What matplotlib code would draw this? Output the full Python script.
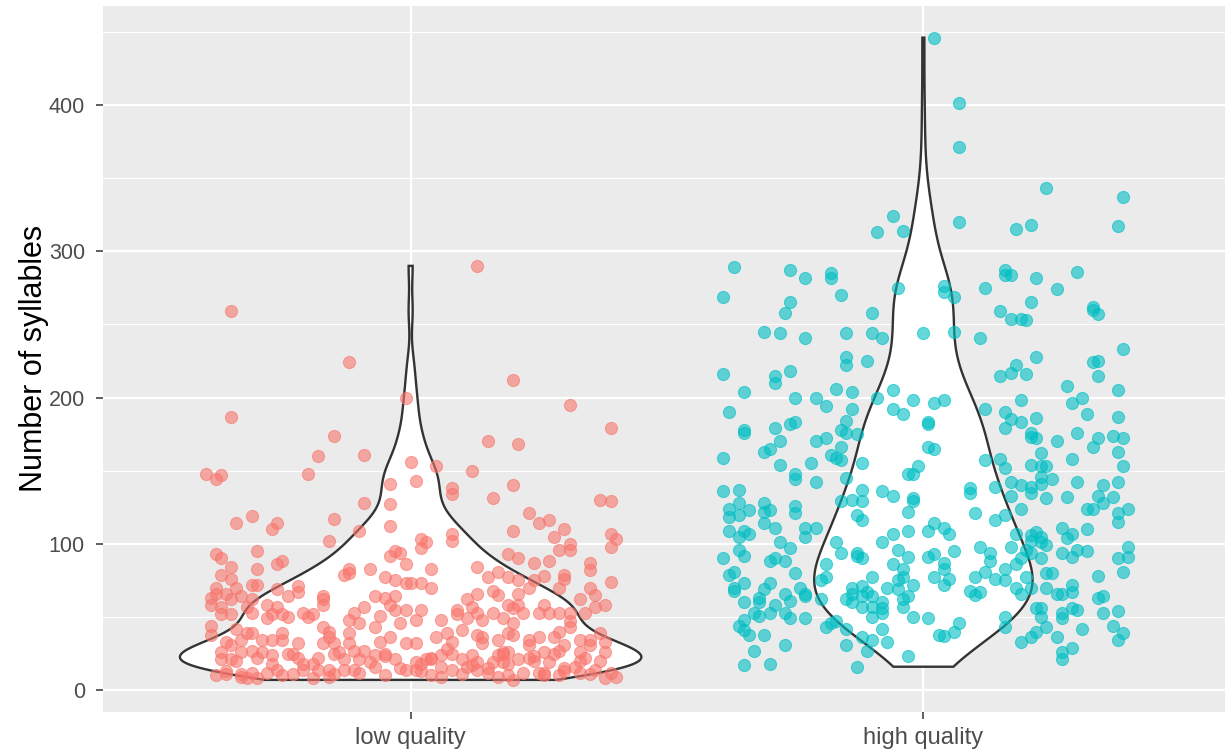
import numpy as np
import matplotlib
matplotlib.use("Agg")
import matplotlib.pyplot as plt
from matplotlib.ticker import MultipleLocator

plt.rcParams['font.family'] = ['Liberation Sans', 'DejaVu Sans']

categories = ["low quality", "high quality"]
group_colors = ["#F8766D", "#00BFC4"]
y_label = "Number of syllables"
y_ticks = [0, 100, 200, 300, 400]

# jittered points, low quality: horizontal jitter (category units) and syllables
low_jitter = [
    -0.35, 0.13, -0.12, -0.35, 0.20, -0.01, 0.31, -0.15, 0.39, 0.21, -0.18, 0.15, 0.00, -0.09,
    -0.40, -0.37, -0.38, 0.05, 0.12, -0.20, 0.08, 0.08, 0.20, 0.37, 0.01, -0.04, 0.16, 0.39,
    -0.09, -0.04, -0.34, -0.31, -0.26, -0.27, -0.15, -0.10, -0.04, -0.16, 0.23, 0.25, 0.27, 0.30,
    0.20, 0.28, 0.31, 0.31, 0.39, 0.40, 0.39, 0.08, 0.08, 0.02, 0.03, 0.02, 0.19, 0.21,
    0.24, 0.27, 0.29, 0.35, 0.35, 0.30, 0.30, 0.26, 0.24, 0.29, 0.39, 0.35, 0.36, 0.33,
    0.36, 0.38, 0.04, 0.13, 0.15, 0.17, 0.19, 0.21, 0.23, 0.02, 0.04, 0.00, 0.13, 0.16,
    0.17, 0.21, 0.11, 0.02, 0.01, 0.06, 0.09, 0.09, 0.12, 0.13, 0.11, 0.14, 0.16, 0.19,
    0.20, 0.21, 0.22, 0.18, 0.20, 0.25, 0.26, 0.27, 0.29, 0.31, 0.34, 0.31, 0.31, 0.29,
    0.28, 0.30, 0.33, 0.35, 0.37, 0.38, 0.35, 0.33, 0.34, 0.38, 0.37, 0.36, 0.38, 0.40,
    0.32, 0.33, 0.29, 0.30, 0.26, 0.25, 0.27, 0.24, 0.23, 0.23, 0.25, 0.26, 0.28, 0.19,
    0.20, 0.17, 0.18, 0.19, 0.17, 0.18, 0.16, 0.19, 0.21, 0.23, 0.15, 0.17, 0.19, 0.20,
    0.15, 0.13, 0.12, 0.14, 0.13, 0.14, 0.08, 0.07, 0.05, 0.10, 0.10, 0.08, 0.06, 0.06,
    0.04, 0.04, 0.02, 0.01, 0.08, 0.11, 0.13, 0.04, 0.01, 0.01,
    -0.38, -0.37, -0.30, -0.25, -0.26, -0.35, -0.30, -0.37, -0.35, -0.34, -0.31, -0.30, -0.38, -0.38,
    -0.39, -0.36, -0.35, -0.39, -0.37, -0.37, -0.35, -0.33, -0.31, -0.32, -0.31, -0.26, -0.22, -0.22,
    -0.24, -0.28, -0.26, -0.27, -0.28, -0.25, -0.24, -0.21, -0.19, -0.20, -0.39, -0.34, -0.32, -0.31,
    -0.39, -0.36, -0.35, -0.33, -0.29, -0.27, -0.25, -0.25, -0.22, -0.37, -0.37, -0.35, -0.33, -0.30,
    -0.29, -0.27, -0.24, -0.23, -0.22, -0.21, -0.19, -0.36, -0.33, -0.32, -0.31, -0.30, -0.26, -0.25,
    -0.19, -0.18, -0.16, -0.15, -0.13, -0.11, -0.13, -0.10, -0.07, -0.05, -0.03, -0.02, -0.01, -0.17,
    -0.17, -0.17, -0.13, -0.12, -0.12, -0.08, -0.05, -0.04, -0.03, -0.03, -0.02, -0.01, -0.01, -0.07,
    -0.05, -0.03, -0.04, -0.03, -0.01, -0.11, -0.09, -0.12, -0.06, -0.10, -0.02, -0.17, -0.16, -0.16,
    -0.12, -0.15, -0.17, -0.12, -0.09, -0.06, -0.07, -0.04, -0.01, -0.15, -0.11, -0.07, -0.05,
    # overlapping points in the dense bottom band
    -0.38, -0.36, -0.33, -0.28, -0.23, -0.21, -0.16, -0.10, -0.05, 0.02, 0.06, 0.10,
    0.22, 0.26, 0.30, 0.35, 0.39, -0.34, -0.27, -0.18, -0.08, 0.03, 0.12, 0.24,
    0.33, -0.31, -0.14, 0.07, 0.18, 0.29,
]
low_syllables = [
    259, 290, 224, 187, 212, 200, 195, 174, 179, 168, 160, 170, 156, 161,
    148, 147, 144, 153, 150, 148, 138, 134, 140, 130, 143, 141, 131, 129,
    128, 127, 114, 119, 114, 110, 117, 109, 112, 102, 121, 114, 116, 110,
    109, 105, 100, 96, 107, 103, 98, 107, 102, 103, 101, 97, 93, 90,
    87, 88, 96, 87, 82, 79, 76, 78, 75, 70, 74, 70, 65, 62,
    57, 58, 83, 84, 77, 81, 77, 75, 70, 73, 70, 73, 66, 68,
    65, 66, 62, 55, 48, 48, 55, 52, 57, 53, 49, 48, 53, 58,
    56, 58, 53, 49, 46, 53, 58, 53, 53, 53, 53, 47, 43, 40,
    36, 31, 34, 34, 39, 33, 31, 26, 22, 26, 20, 14, 8, 9,
    16, 12, 10, 15, 12, 12, 19, 20, 31, 34, 36, 26, 25, 39,
    38, 34, 26, 26, 24, 19, 19, 18, 21, 22, 12, 9, 10, 7,
    15, 19, 24, 32, 38, 36, 33, 39, 36, 41, 21, 25, 24, 16,
    21, 22, 18, 19, 14, 16, 14, 10, 32, 14,
    93, 90, 95, 88, 86, 84, 83, 79, 76, 70, 72, 72, 70, 66,
    63, 66, 62, 58, 57, 52, 52, 64, 62, 57, 53, 69, 71, 67,
    64, 58, 57, 52, 49, 52, 50, 53, 52, 50, 44, 42, 39, 39,
    38, 33, 31, 34, 34, 34, 39, 34, 32, 26, 21, 21, 26, 22,
    26, 24, 25, 25, 22, 18, 18, 11, 11, 8, 12, 8, 14, 10,
    8, 14, 14, 11, 14, 14, 21, 21, 16, 23, 21, 15, 14, 64,
    58, 62, 79, 83, 80, 83, 77, 92, 75, 95, 94, 86, 73, 64,
    63, 64, 58, 55, 55, 53, 57, 48, 51, 46, 46, 43, 40, 36,
    39, 32, 32, 32, 27, 33, 43, 36, 32, 25, 27, 24, 25,
    10, 13, 9, 12, 11, 14, 9, 12, 10, 13, 9, 11,
    12, 10, 13, 11, 12, 20, 18, 22, 19, 21, 17, 23,
    20, 27, 26, 28, 25, 27,
]

# jittered points, high quality
high_jitter = [
    -0.06, -0.09, -0.04, 0.02, 0.07, 0.07, 0.24, 0.39, 0.07, 0.18, 0.21, 0.38,
    -0.37, -0.26, -0.23, -0.18, -0.18, -0.39, -0.26, -0.16, -0.27, -0.10, -0.05, -0.31,
    -0.28, -0.23, -0.15, -0.10, -0.08, -0.15, -0.15, -0.11, -0.39, -0.29, -0.29, -0.26,
    -0.35, -0.25, -0.21, -0.17, -0.14, -0.19, -0.14, -0.09, -0.06, -0.02, -0.06, -0.04,
    -0.38, -0.35, -0.35, -0.29, -0.26, -0.25, -0.15, -0.16, -0.15, -0.13, -0.28, -0.31,
    -0.30, -0.21, -0.19, -0.16, -0.18, -0.17, -0.16, -0.39, -0.28, -0.22, -0.25, -0.12,
    -0.03, -0.01,
    0.16, 0.16, 0.17, 0.22, 0.30, 0.12, 0.26, 0.04, 0.04, 0.06, 0.21, 0.15,
    0.17, 0.19, 0.20, 0.33, 0.33, 0.34, 0.00, 0.06, 0.11, 0.22, 0.39, 0.33,
    0.34, 0.34, 0.18, 0.17, 0.15, 0.20, 0.28, 0.31, 0.29, 0.38, 0.19, 0.02,
    0.04, 0.01, 0.01, 0.12, 0.16, 0.17, 0.19, 0.16, 0.22, 0.21, 0.21, 0.22,
    0.30, 0.32, 0.38, 0.26, 0.34, 0.33, 0.37, 0.39, 0.38, 0.01, 0.02, 0.23,
    0.29, 0.12, 0.15, 0.16, 0.21, 0.23, 0.24, 0.39,
    -0.25, -0.21, -0.15, -0.39, -0.36, -0.38, -0.36, -0.38, -0.36, -0.34, -0.31, -0.31,
    -0.30, -0.31, -0.29, -0.25, -0.25, -0.23, -0.21, -0.23, -0.38, -0.35, -0.36, -0.34,
    -0.28, -0.26, -0.36, -0.35, -0.39, -0.30, -0.29, -0.27, -0.25, -0.38, -0.37, -0.37,
    -0.35, -0.37, -0.31, -0.30, -0.27, -0.26, -0.24, -0.23, -0.23, -0.20, -0.20, -0.32,
    -0.32, -0.33, -0.32, -0.29, -0.30, -0.27, -0.26, -0.23, -0.35, -0.35, -0.36, -0.35,
    -0.34, -0.31, -0.27, -0.33, -0.35, -0.30, -0.19, -0.18, -0.15, -0.15, -0.13,
    -0.12, -0.12, -0.16, -0.14, -0.13, -0.12, -0.08, -0.06, -0.02, -0.02, -0.03, -0.03,
    -0.06, -0.02, -0.17, -0.16, -0.13, -0.13, -0.12, -0.08, -0.05, -0.03, -0.06, -0.04,
    -0.04, -0.05, -0.02, -0.19, -0.19, -0.10, -0.07, -0.05, -0.14, -0.14, -0.12, -0.11,
    -0.12, -0.15, -0.14, -0.12, -0.10, -0.10, -0.08, -0.08, -0.08, -0.10, -0.04, -0.04,
    -0.03, -0.02, -0.17, -0.08, -0.12, -0.10, -0.11, -0.07, -0.03,
    0.09, 0.09, 0.14, 0.17, 0.19, 0.21, 0.21, 0.23, 0.23, 0.25, 0.30, 0.35,
    0.38, 0.17, 0.24, 0.28, 0.34, 0.37, 0.35, 0.32, 0.33, 0.38, 0.40, 0.38,
    0.10, 0.14, 0.16, 0.19, 0.02, 0.01, 0.04, 0.05, 0.18, 0.21, 0.22, 0.23,
    0.21, 0.23, 0.24, 0.27, 0.29, 0.28, 0.32, 0.40, 0.38, 0.40, 0.39, 0.11,
    0.13, 0.13, 0.17, 0.20, 0.21, 0.23, 0.27, 0.29, 0.30, 0.32, 0.06, 0.01,
    0.02, 0.04, 0.04, 0.19, 0.18, 0.16, 0.12, 0.02, 0.05, 0.04, 0.10, 0.14,
    0.16, 0.20, 0.24, 0.25, 0.34, 0.09, 0.10, 0.11, 0.18, 0.19, 0.21, 0.24,
    0.26, 0.27, 0.29, 0.29, 0.34, 0.35, 0.01, 0.03, 0.04, 0.06, 0.07, 0.16,
    0.16, 0.22, 0.23, 0.23, 0.24, 0.27, 0.27, 0.29, 0.30, 0.35, 0.38, 0.37,
    0.39, 0.38, 0.31, 0.22, 0.21, 0.19, 0.26, 0.29, 0.27, 0.27,
]
high_syllables = [
    324, 313, 314, 446, 401, 371, 343, 337, 320, 315, 318, 317,
    289, 287, 282, 285, 282, 269, 265, 270, 258, 258, 275, 245,
    244, 241, 244, 244, 241, 228, 222, 225, 216, 215, 210, 218,
    204, 200, 200, 206, 204, 194, 192, 200, 205, 198, 192, 189,
    190, 178, 176, 179, 182, 183, 184, 178, 176, 175, 170, 163,
    165, 170, 172, 166, 161, 159, 157, 159, 154, 155, 148, 155,
    148, 153,
    287, 284, 284, 282, 286, 275, 274, 276, 272, 269, 265, 259,
    254, 254, 253, 262, 260, 257, 244, 245, 241, 228, 233, 224,
    225, 215, 222, 217, 215, 216, 208, 200, 196, 205, 198, 196,
    198, 183, 182, 192, 190, 185, 183, 179, 186, 176, 173, 172,
    176, 189, 187, 170, 172, 166, 174, 172, 163, 166, 165, 162,
    158, 157, 158, 152, 154, 153, 153, 153,
    144, 142, 145, 136, 137, 124, 128, 118, 120, 123, 128, 122,
    123, 114, 111, 126, 121, 111, 111, 105, 109, 109, 105, 107,
    101, 97, 96, 92, 90, 88, 90, 88, 80, 79, 81, 70,
    73, 68, 69, 73, 66, 61, 70, 66, 64, 62, 75, 63,
    60, 53, 51, 58, 53, 53, 49, 49, 60, 48, 44, 41,
    38, 38, 31, 27, 17, 18, 43, 46, 42, 31, 16,
    137, 129, 129, 130, 120, 116, 136, 133, 131, 129, 122, 109,
    107, 148, 101, 94, 94, 92, 90, 101, 96, 91, 86, 83,
    77, 75, 72, 86, 77, 77, 70, 69, 70, 66, 71, 67,
    64, 62, 60, 57, 57, 64, 60, 56, 53, 50, 62, 57,
    64, 50, 47, 42, 36, 34, 27, 33, 23,
    138, 135, 139, 142, 140, 139, 135, 141, 146, 144, 142, 140,
    142, 133, 131, 132, 133, 132, 128, 124, 124, 121, 124, 115,
    121, 116, 120, 124, 114, 109, 111, 107, 107, 106, 108, 105,
    102, 101, 99, 111, 107, 104, 110, 98, 90, 91, 81, 98,
    94, 88, 98, 96, 94, 90, 94, 91, 96, 95, 95, 91,
    93, 87, 83, 90, 86, 83, 81, 77, 76, 72, 77, 76,
    75, 77, 80, 80, 78, 68, 65, 67, 70, 66, 70, 70,
    66, 66, 72, 67, 63, 64, 49, 38, 37, 40, 46, 50,
    43, 56, 56, 50, 43, 49, 53, 56, 55, 53, 54, 44,
    39, 34, 42, 40, 36, 33, 36, 29, 26, 21,
]

groups = [(low_jitter, low_syllables), (high_jitter, high_syllables)]


def kde_nrd0(values, n=512):
    v = np.asarray(values, dtype=float)
    sd = v.std(ddof=1)
    q75, q25 = np.percentile(v, [75, 25])
    bw = 0.9 * min(sd, (q75 - q25) / 1.34) * len(v) ** (-0.2)
    grid = np.linspace(v.min(), v.max(), n)
    z = (grid[:, None] - v[None, :]) / bw
    dens = np.exp(-0.5 * z ** 2).sum(axis=1) / (len(v) * bw * np.sqrt(2 * np.pi))
    return grid, dens


dens_list = [kde_nrd0(ys) for _, ys in groups]
dmax = max(d.max() for _, d in dens_list)

W, H = 1225, 749
fig = plt.figure(figsize=(W / 100, H / 100), dpi=100)
px_left, px_right, px_top, px_bottom = 103, 1231, 5.5, 712
ax = fig.add_axes([px_left / W, 1 - px_bottom / H, (px_right - px_left) / W, (px_bottom - px_top) / H])
ax.set_facecolor("#EBEBEB")

for i, ((jit, ys), (grid, dens), col) in enumerate(zip(groups, dens_list, group_colors)):
    pos = i + 1
    half = 0.45 * dens / dmax
    xs = np.concatenate([pos - half, (pos + half)[::-1]])
    yv = np.concatenate([grid, grid[::-1]])
    ax.fill(xs, yv, facecolor="white", edgecolor="#333333", linewidth=1.7, zorder=2)
    ax.scatter(pos + np.asarray(jit), ys, s=76, color=col, alpha=0.6,
               edgecolors=col, linewidths=0.8, zorder=3)

all_y = np.concatenate([np.asarray(ys, float) for _, ys in groups])
lo, hi = all_y.min(), all_y.max()
rng = hi - lo
ax.set_ylim(lo - 0.05 * rng, hi + 0.05 * rng)
ax.set_xlim(0.4, 2.6)

ax.set_xticks([1, 2])
ax.set_xticklabels(categories)
ax.set_yticks(y_ticks)
ax.yaxis.set_minor_locator(MultipleLocator(50))
ax.grid(which="major", color="white", linewidth=1.6)
ax.grid(which="minor", axis="y", color="white", linewidth=0.8)
ax.set_axisbelow(True)
for s in ax.spines.values():
    s.set_visible(False)

ax.tick_params(axis="both", which="major", length=5, width=1.1, color="#333333",
               labelcolor="#4D4D4D")
ax.tick_params(axis="x", pad=5.5, labelsize=17)
ax.tick_params(axis="y", pad=8, labelsize=15.5)
ax.tick_params(which="minor", length=0)

ax.set_ylabel(y_label, fontsize=22, color="black")
ax.yaxis.set_label_coords(-0.048, 0.5)

fig.savefig("out.png", dpi=100, facecolor="white")
